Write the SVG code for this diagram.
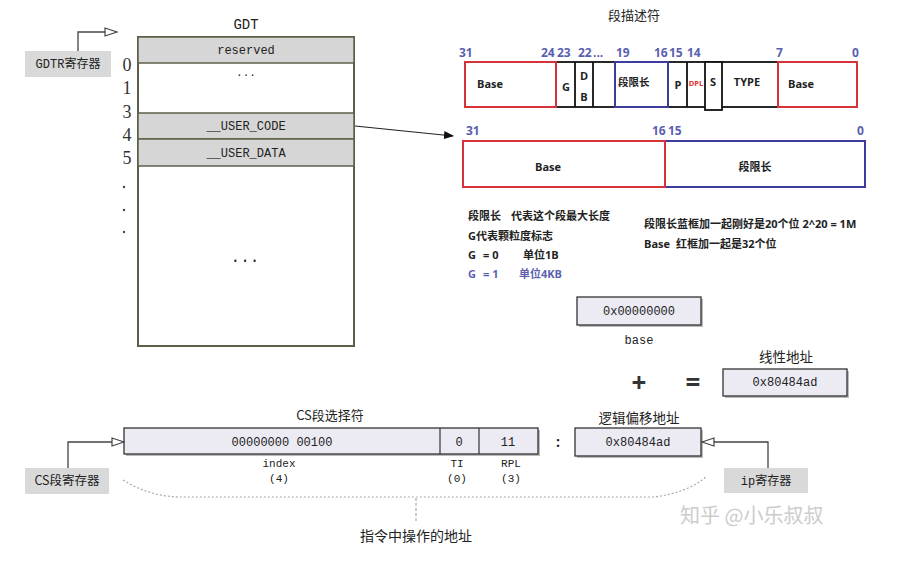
<svg xmlns="http://www.w3.org/2000/svg" width="917" height="562" viewBox="0 0 917 562">
<defs>
<style>
.mono{font-family:"Liberation Mono","Noto Sans CJK SC",monospace;fill:#222}
.cjk{font-family:"Noto Sans CJK SC","Noto Sans",sans-serif;fill:#222}
.b{font-family:"Open Sans","Noto Sans CJK SC",sans-serif;font-weight:bold;fill:#222}
.num{font-family:"Open Sans",sans-serif;font-weight:bold;fill:#5b5fb0;font-size:12px}
.ser{font-family:"Liberation Serif",serif;fill:#333;font-size:18px}
.reg{fill:#d9d9d9}
.cell{fill:#d6d6d6;stroke:#5c604a;stroke-width:1.5}
.tbl{fill:#fff;stroke:#5c604a;stroke-width:2}
.box{fill:#ecebf4;stroke:#333;stroke-width:1.3}
.shadow{fill:#bbb}
.blk{fill:#fff;stroke:#111;stroke-width:1.8}
.red{fill:none;stroke:#d6323a;stroke-width:2}
.blu{fill:none;stroke:#3c3c9c;stroke-width:2}
.ln{fill:none;stroke:#444;stroke-width:1.3}
.c{text-anchor:middle}
.blue{fill:#5b5fb0}
</style>
<marker id="hollow" markerWidth="14" markerHeight="10" refX="13" refY="5" orient="auto" markerUnits="userSpaceOnUse">
<path d="M1,1 L13,5 L1,9 Z" fill="#fff" stroke="#444" stroke-width="1.2"/>
</marker>
<marker id="solid" markerWidth="10" markerHeight="8" refX="9" refY="4" orient="auto" markerUnits="userSpaceOnUse">
<path d="M0,0 L10,4 L0,8 Z" fill="#111"/>
</marker>
</defs>
<rect width="917" height="562" fill="#fff"/>

<!-- GDT table -->
<g id="gdt">
<text class="mono c" x="246" y="29" font-size="14">GDT</text>
<rect class="tbl" x="138" y="37" width="216" height="309"/>
<rect class="cell" x="138" y="37" width="216" height="26"/>
<text class="mono c" x="246" y="54" font-size="12">reserved</text>
<text class="mono c" x="246" y="76" font-size="11">...</text>
<rect class="cell" x="138" y="113" width="216" height="26"/>
<text class="mono c" x="246" y="130" font-size="12">__USER_CODE</text>
<rect class="cell" x="138" y="139" width="216" height="27"/>
<text class="mono c" x="246" y="157" font-size="12">__USER_DATA</text>
<text class="mono c" x="245" y="262" font-size="16">...</text>
</g>
<g id="gdt-index">
<text class="ser c" x="127" y="71">0</text>
<text class="ser c" x="127" y="94">1</text>
<text class="ser c" x="127" y="118">3</text>
<text class="ser c" x="127" y="141">4</text>
<text class="ser c" x="127" y="164">5</text>
<circle cx="124" cy="187" r="1.2" fill="#444"/>
<circle cx="124" cy="210" r="1.2" fill="#444"/>
<circle cx="124" cy="232" r="1.2" fill="#444"/>
</g>

<g id="gdtr">
<rect class="reg" x="25" y="51" width="86" height="26"/>
<text class="mono c" x="68" y="68" font-size="12">GDTR寄存器</text>
</g>

<!-- Descriptor -->
<g id="descriptor">
<text class="cjk c" x="634" y="20" font-size="13">段描述符</text>
<text class="num" x="459" y="57">31</text>
<text class="num" x="541" y="57">24</text>
<text class="num" x="557" y="57">23</text>
<text class="num" x="578" y="57">22</text>
<text class="num" x="593" y="57">...</text>
<text class="num" x="616" y="57">19</text>
<text class="num" x="654" y="57">16</text>
<text class="num" x="669" y="57">15</text>
<text class="num" x="687" y="57">14</text>
<text class="num" x="776" y="57">7</text>
<text class="num" x="852" y="57">0</text>
<rect class="blk" x="556" y="62" width="222" height="45"/>
<line x1="575" y1="62" x2="575" y2="107" stroke="#111" stroke-width="1.8"/>
<line x1="593" y1="62" x2="593" y2="107" stroke="#111" stroke-width="1.8"/>
<line x1="687" y1="62" x2="687" y2="107" stroke="#111" stroke-width="1.8"/>
<rect class="blk" x="705" y="62" width="17" height="48"/>
<rect class="red" x="465" y="62" width="91" height="45"/>
<rect class="blu" x="615" y="62" width="53" height="45"/>
<rect class="red" x="778" y="62" width="79" height="45"/>
<text class="b" x="477" y="88" font-size="11">Base</text>
<text class="b c" x="566" y="91" font-size="11">G</text>
<text class="b c" x="584" y="80" font-size="11">D</text>
<text class="b c" x="584" y="101" font-size="11">B</text>
<text class="b" x="618" y="86" font-size="10.5">段限长</text>
<text class="b c" x="678" y="89" font-size="11">P</text>
<text class="b c" x="696" y="86" font-size="7.5" style="fill:#e03030">DPL</text>
<text class="b c" x="713" y="86" font-size="11">S</text>
<text class="b c" x="747" y="86" font-size="11">TYPE</text>
<text class="b" x="788" y="88" font-size="11">Base</text>

<text class="num" x="466" y="135">31</text>
<text class="num" x="652" y="135">16</text>
<text class="num" x="668" y="135">15</text>
<text class="num" x="857" y="135">0</text>
<rect class="blu" x="665" y="141" width="200" height="46"/>
<rect class="red" x="463" y="141" width="202" height="46"/>
<text class="b c" x="548" y="171" font-size="11">Base</text>
<text class="b c" x="755" y="171" font-size="11">段限长</text>

<text class="b" x="468" y="220" font-size="11">段限长</text>
<text class="b" x="511" y="220" font-size="11">代表这个段最大长度</text>
<text class="b" x="468" y="240" font-size="11">G代表颗粒度标志</text>
<text class="b" x="468" y="259" font-size="11">G</text>
<text class="b" x="483" y="259" font-size="11">= 0</text>
<text class="b" x="523" y="259" font-size="11">单位1B</text>
<text class="b blue" x="468" y="278" font-size="11">G</text>
<text class="b blue" x="483" y="278" font-size="11">= 1</text>
<text class="b blue" x="519" y="278" font-size="11">单位4KB</text>
<text class="b" x="644" y="228" font-size="11">段限长蓝框加一起刚好是20个位 2^20 = 1M</text>
<text class="b" x="644" y="248" font-size="11">Base</text>
<text class="b" x="676" y="248" font-size="11">红框加一起是32个位</text>
</g>

<!-- address boxes -->
<g id="base">
<rect class="shadow" x="579" y="299" width="124" height="28"/>
<rect class="box" x="577" y="297" width="124" height="28"/>
<text class="mono c" x="639" y="315" font-size="12">0x00000000</text>
<text class="mono c" x="639" y="344" font-size="12">base</text>
</g>
<g id="ops">
<text class="b c" x="639" y="392" font-size="26" style="fill:#333">+</text>
<text class="b c" x="693" y="392" font-size="26" style="fill:#333">=</text>
</g>
<g id="linear">
<text class="cjk c" x="786" y="362" font-size="13.5">线性地址</text>
<rect class="shadow" x="725" y="371" width="124" height="27"/>
<rect class="box" x="723" y="369" width="124" height="27"/>
<text class="mono c" x="785" y="386" font-size="12">0x80484ad</text>
</g>
<g id="offset">
<text class="cjk c" x="639" y="423" font-size="13.5">逻辑偏移地址</text>
<rect class="shadow" x="577" y="430" width="126" height="28"/>
<rect class="box" x="575" y="428" width="126" height="28"/>
<text class="mono c" x="638" y="446" font-size="12">0x80484ad</text>
</g>
<g id="ip">
<rect class="reg" x="724" y="468" width="84" height="25"/>
<text class="mono c" x="766" y="485" font-size="12">ip寄存器</text>
</g>
<g id="colon">
<text class="b c" x="558" y="447" font-size="14">:</text>
</g>

<!-- CS selector -->
<g id="selector">
<text class="cjk c" x="330" y="420" font-size="13">CS段选择符</text>
<rect class="shadow" x="126" y="430" width="414" height="26"/>
<rect class="box" x="124" y="428" width="414" height="26"/>
<line x1="440" y1="428" x2="440" y2="454" stroke="#333" stroke-width="1.2"/>
<line x1="479" y1="428" x2="479" y2="454" stroke="#333" stroke-width="1.2"/>
<text class="mono c" x="282" y="446" font-size="12">00000000 00100</text>
<text class="mono c" x="459" y="446" font-size="12">0</text>
<text class="mono c" x="508" y="446" font-size="12">11</text>
<text class="mono c" x="279" y="467" font-size="11">index</text>
<text class="mono c" x="279" y="482" font-size="11">(4)</text>
<text class="mono c" x="457" y="467" font-size="11">TI</text>
<text class="mono c" x="457" y="482" font-size="11">(0)</text>
<text class="mono c" x="511" y="467" font-size="11">RPL</text>
<text class="mono c" x="511" y="482" font-size="11">(3)</text>
</g>
<g id="csreg">
<rect class="reg" x="25" y="468" width="84" height="26"/>
<text class="cjk c" x="67" y="485" font-size="12.5">CS段寄存器</text>
</g>
<g id="instr-label">
<text class="cjk c" x="416" y="541" font-size="14">指令中操作的地址</text>
</g>

<!-- connectors -->
<g id="connectors">
<polyline class="ln" points="78,51 78,32 117,32" marker-end="url(#hollow)"/>
<line x1="355" y1="126" x2="453" y2="136" stroke="#222" stroke-width="1.2" marker-end="url(#solid)"/>
<polyline class="ln" points="68,468 68,442 124,442" marker-end="url(#hollow)"/>
<polyline class="ln" points="768,468 768,442 702,442" marker-end="url(#hollow)"/>
<path d="M123,480 Q150,497 182,497 L653,497 Q688,493 707,476" fill="none" stroke="#aaa" stroke-width="1.2" stroke-dasharray="2 2"/>
<line x1="416" y1="498" x2="416" y2="521" stroke="#999" stroke-width="1" stroke-dasharray="3 2"/>
</g>

<text x="680" y="523" font-family="Noto Sans CJK SC, sans-serif" font-size="20" fill="#cccccc">知乎 @小乐叔叔</text>
</svg>
